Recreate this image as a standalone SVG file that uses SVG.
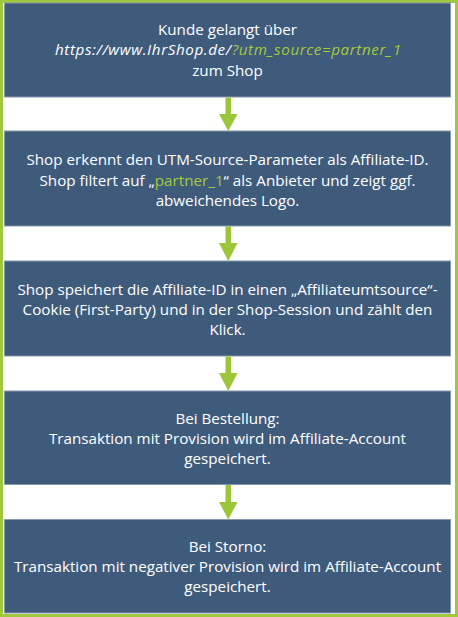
<svg xmlns="http://www.w3.org/2000/svg" width="458" height="617" viewBox="0 0 458 617">
<style>
.box{fill:#3f5b7b;stroke:#8799ae;stroke-width:1}
.t{font-family:"Open Sans","Noto Sans",sans-serif;font-size:15.2px;fill:#ffffff;text-anchor:middle}
.g{fill:#a6c93a}
.i{font-style:italic}
.arr{fill:#9cc63a}
</style>
<rect x="1.5" y="1.5" width="455" height="614" fill="#ffffff" stroke="#a0c83c" stroke-width="3"/>
<g id="n1">
<rect class="box" x="4.5" y="3" width="446" height="94"/>
<text class="t" x="227.5" y="34.5">Kunde gelangt über</text>
<text class="t i" x="228" y="55" textLength="346" lengthAdjust="spacing">https://www.IhrShop.de/<tspan class="g">?utm_source=partner_1</tspan></text>
<text class="t" x="227.5" y="75.5">zum Shop</text>
</g>
<g id="n2">
<rect class="box" x="4.5" y="131" width="446" height="95"/>
<text class="t" x="227.5" y="165">Shop erkennt den UTM-Source-Parameter als Affiliate-ID.</text>
<text class="t" x="227.5" y="185.5">Shop filtert auf „<tspan class="g">partner_1</tspan>“ als Anbieter und zeigt ggf.</text>
<text class="t" x="227.5" y="205.5">abweichendes Logo.</text>
</g>
<g id="n3">
<rect class="box" x="4.5" y="261" width="446" height="95"/>
<text class="t" x="227.5" y="294.5">Shop speichert die Affiliate-ID in einen „Affiliateumtsource“-</text>
<text class="t" x="227.5" y="314.5">Cookie (First-Party) und in der Shop-Session und zählt den</text>
<text class="t" x="227.5" y="334.5">Klick.</text>
</g>
<g id="n4">
<rect class="box" x="4.5" y="391" width="446" height="93.5"/>
<text class="t" x="227.5" y="423.5">Bei Bestellung:</text>
<text class="t" x="227.5" y="443.5">Transaktion mit Provision wird im Affiliate-Account</text>
<text class="t" x="227.5" y="463.5">gespeichert.</text>
</g>
<g id="n5">
<rect class="box" x="4.5" y="519.5" width="446" height="93.5"/>
<text class="t" x="227.5" y="552">Bei Storno:</text>
<text class="t" x="227.5" y="572">Transaktion mit negativer Provision wird im Affiliate-Account</text>
<text class="t" x="227.5" y="592">gespeichert.</text>
</g>
<g id="connectors">
<g id="e1"><rect class="arr" x="225.5" y="97.5" width="5.5" height="17"/><polygon class="arr" points="219,114 237.5,114 228.3,131"/></g>
<g id="e2"><rect class="arr" x="225.5" y="226.5" width="5.5" height="17"/><polygon class="arr" points="219,243 237.5,243 228.3,261"/></g>
<g id="e3"><rect class="arr" x="225.5" y="356.5" width="5.5" height="17"/><polygon class="arr" points="219,373 237.5,373 228.3,391"/></g>
<g id="e4"><rect class="arr" x="225.5" y="485" width="5.5" height="17"/><polygon class="arr" points="219,502 237.5,502 228.3,519.5"/></g>
</g>
</svg>
